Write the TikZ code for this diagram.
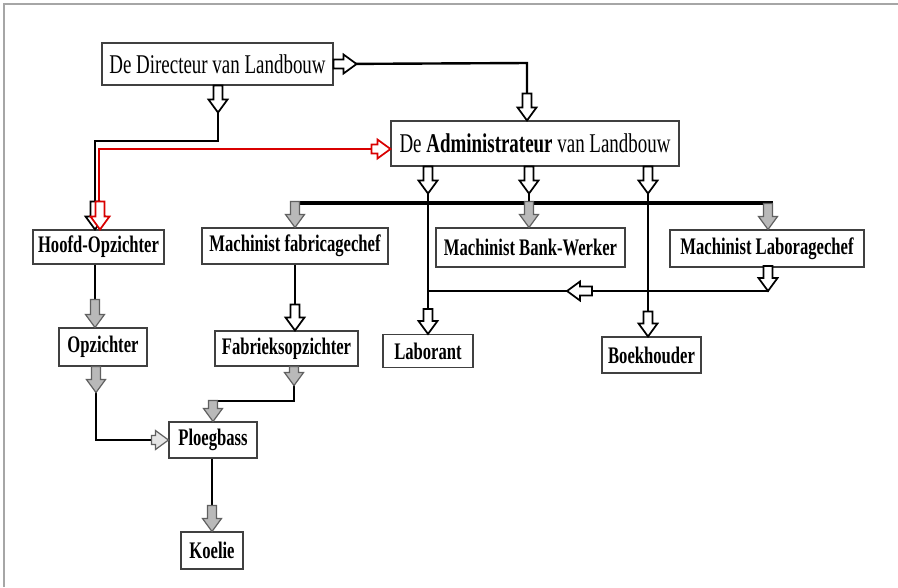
\documentclass[tikz,border=0pt]{standalone}
\usepackage{fontspec}
\setmainfont{Liberation Serif}[FakeStretch=0.7]
\usetikzlibrary{calc}
\tikzset{
  box/.style={draw=black!75, line width=0.8pt, fill=white, inner sep=0pt, align=center},
  big/.style={box, font=\fontsize{20.3}{22}\selectfont},
  lbl/.style={box, font=\bfseries\fontsize{17.8}{19}\selectfont},
  conn/.style={draw=black, line width=1.8pt},
  bus/.style={draw=black, line width=2.4pt},
  redconn/.style={draw=red!85!black, line width=1.8pt},
  hollow/.style={draw=black, fill=white, line width=1.3pt, line join=miter},
  grayarr/.style={draw=gray!75!black, fill=gray!55, line width=0.9pt},
  lgrayarr/.style={draw=gray!75!black, fill=gray!20, line width=0.9pt},
  redarr/.style={draw=red!85!black, fill=white, line width=1.3pt},
  darr/.pic={\path[pic actions] (-4.5,-#1) -- (4.5,-#1) -- (4.5,-13) -- (9.5,-13) -- (0,0) -- (-9.5,-13) -- (-4.5,-13) -- cycle;},
  rarr/.pic={\path[pic actions] (-#1,-4.5) -- (-#1,4.5) -- (-13,4.5) -- (-13,9.5) -- (0,0) -- (-13,-9.5) -- (-13,-4.5) -- cycle;},
  larr/.pic={\path[pic actions] (#1,-4.5) -- (#1,4.5) -- (13,4.5) -- (13,9.5) -- (0,0) -- (13,-9.5) -- (13,-4.5) -- cycle;},
}
\begin{document}
\begin{tikzpicture}[x=0.75pt,y=-0.75pt]
\useasboundingbox (0,0) rectangle (898,587);
\fill[white] (0,0) rectangle (898,587);
\draw[gray!70, line width=1.2pt] (4,587) -- (4,4) -- (898,4);

% nodes
\node[big, minimum width=173.25pt, minimum height=31.5pt] (dir) at (217.5,64) {De Directeur van Landbouw};
\node[big, minimum width=216pt, minimum height=33.75pt] (adm) at (535,143.5) {De \textbf{Administrateur} van Landbouw};
\node[lbl, minimum width=98.25pt, minimum height=25.5pt] (hoofd) at (98.5,247) {Hoofd-Opzichter};
\node[lbl, minimum width=139.5pt, minimum height=27pt] (fab) at (295,246) {Machinist fabricagechef};
\node[lbl, minimum width=141.75pt, minimum height=29.25pt] (bank) at (530.5,247.5) {Machinist Bank-Werker};
\node[lbl, minimum width=145.5pt, minimum height=27.75pt] (labc) at (767,248.5) {Machinist Laboragechef};
\node[lbl, minimum width=66pt, minimum height=28.5pt] (opz) at (103,347) {Opzichter};
\node[lbl, minimum width=107.25pt, minimum height=26.25pt] (fabr) at (286.5,348.5) {Fabrieksopzichter};
\node[lbl, minimum width=67.5pt, minimum height=24.75pt] (lab) at (428,351) {Laborant};
\node[lbl, minimum width=74.25pt, minimum height=27pt] (boek) at (651.5,355) {Boekhouder};
\node[lbl, minimum width=66pt, minimum height=27pt] (ploeg) at (213,440) {Ploegbass};
\node[lbl, minimum width=46.5pt, minimum height=27.75pt] (koelie) at (212,550.5) {Koelie};

% coordinates
\coordinate (c1) at (527,63);
\coordinate (c2) at (218,141);
\coordinate (c3) at (95,141);
\coordinate (c4) at (99,149);
\coordinate (b1) at (428,203);
\coordinate (b2) at (529,203);
\coordinate (b3) at (648,203);
\coordinate (bl) at (290,203);
\coordinate (br) at (773,203);
\coordinate (g1) at (295,203);
\coordinate (g3) at (768,203);
\coordinate (h1) at (768,291);
\coordinate (h2) at (428,291);
\coordinate (p1) at (96,440);
\coordinate (f1) at (294,401);
\coordinate (f2) at (213,401);

% connectors
\draw[conn] (dir.east) -- (c1) -- (c1 |- adm.north);
\draw[conn] (c2 |- dir.south) -- (c2) -- (c3) -- (c3 |- hoofd.north);
\draw[redconn] (c4 |- hoofd.north) -- (c4) -- (c4 -| adm.west);
\draw[bus] (bl) -- (br);
\draw[conn] (b1 |- adm.south) -- (b1 |- lab.north);
\draw[conn] (b2 |- adm.south) -- (b2 |- bank.north);
\draw[conn] (b3 |- adm.south) -- (b3 |- boek.north);
\draw[conn] (g1) -- (g1 |- fab.north);
\draw[conn] (g3) -- (g3 |- labc.north);
\draw[conn] (h1 |- labc.south) -- (h1) -- (h2);
\draw[conn] (c3 |- hoofd.south) -- (c3 |- opz.north);
\draw[conn] (g1 |- fab.south) -- (g1 |- fabr.north);
\draw[conn] (p1 |- opz.south) -- (p1) -- (ploeg.west);
\draw[conn] (f1 |- fabr.south) -- (f1) -- (f2) -- (f2 |- ploeg.north);
\draw[conn] (ploeg.south -| koelie.north) -- (koelie.north);

% block arrows
\pic[hollow] at ($(dir.east)+(23,0)$) {rarr=23};
\pic[hollow] at (c1 |- adm.north) {darr=27};
\pic[hollow] at ($(c2 |- dir.south)+(0,27)$) {darr=27};
\pic[hollow] at (c3 |- hoofd.north) {darr=28};
\pic[redarr] at ($(c4 |- hoofd.north)+(1,0)$) {darr=28};
\pic[redarr] at (c4 -| adm.west) {rarr=19};
\pic[hollow] at ($(b1 |- adm.south)+(0,27)$) {darr=27};
\pic[hollow] at ($(b2 |- adm.south)+(0,27)$) {darr=27};
\pic[hollow] at ($(b3 |- adm.south)+(0,27)$) {darr=27};
\pic[grayarr] at (g1 |- fab.north) {darr=26};
\pic[grayarr] at (b2 |- bank.north) {darr=26};
\pic[grayarr] at (g3 |- labc.north) {darr=26};
\pic[hollow] at (h1) {darr=25};
\pic[hollow] at (567,291) {larr=25};
\pic[hollow] at (b1 |- lab.north) {darr=25};
\pic[hollow] at (b3 |- boek.north) {darr=25};
\pic[grayarr] at (c3 |- opz.north) {darr=28};
\pic[hollow] at (g1 |- fabr.north) {darr=26};
\pic[grayarr] at ($(p1 |- opz.south)+(0,26)$) {darr=26};
\pic[lgrayarr] at (ploeg.west) {rarr=17};
\pic[grayarr] at ($(f1 |- fabr.south)+(0,19)$) {darr=19};
\pic[grayarr] at (f2 |- ploeg.north) {darr=21};
\pic[grayarr] at (koelie.north) {darr=26};
\end{tikzpicture}
\end{document}
